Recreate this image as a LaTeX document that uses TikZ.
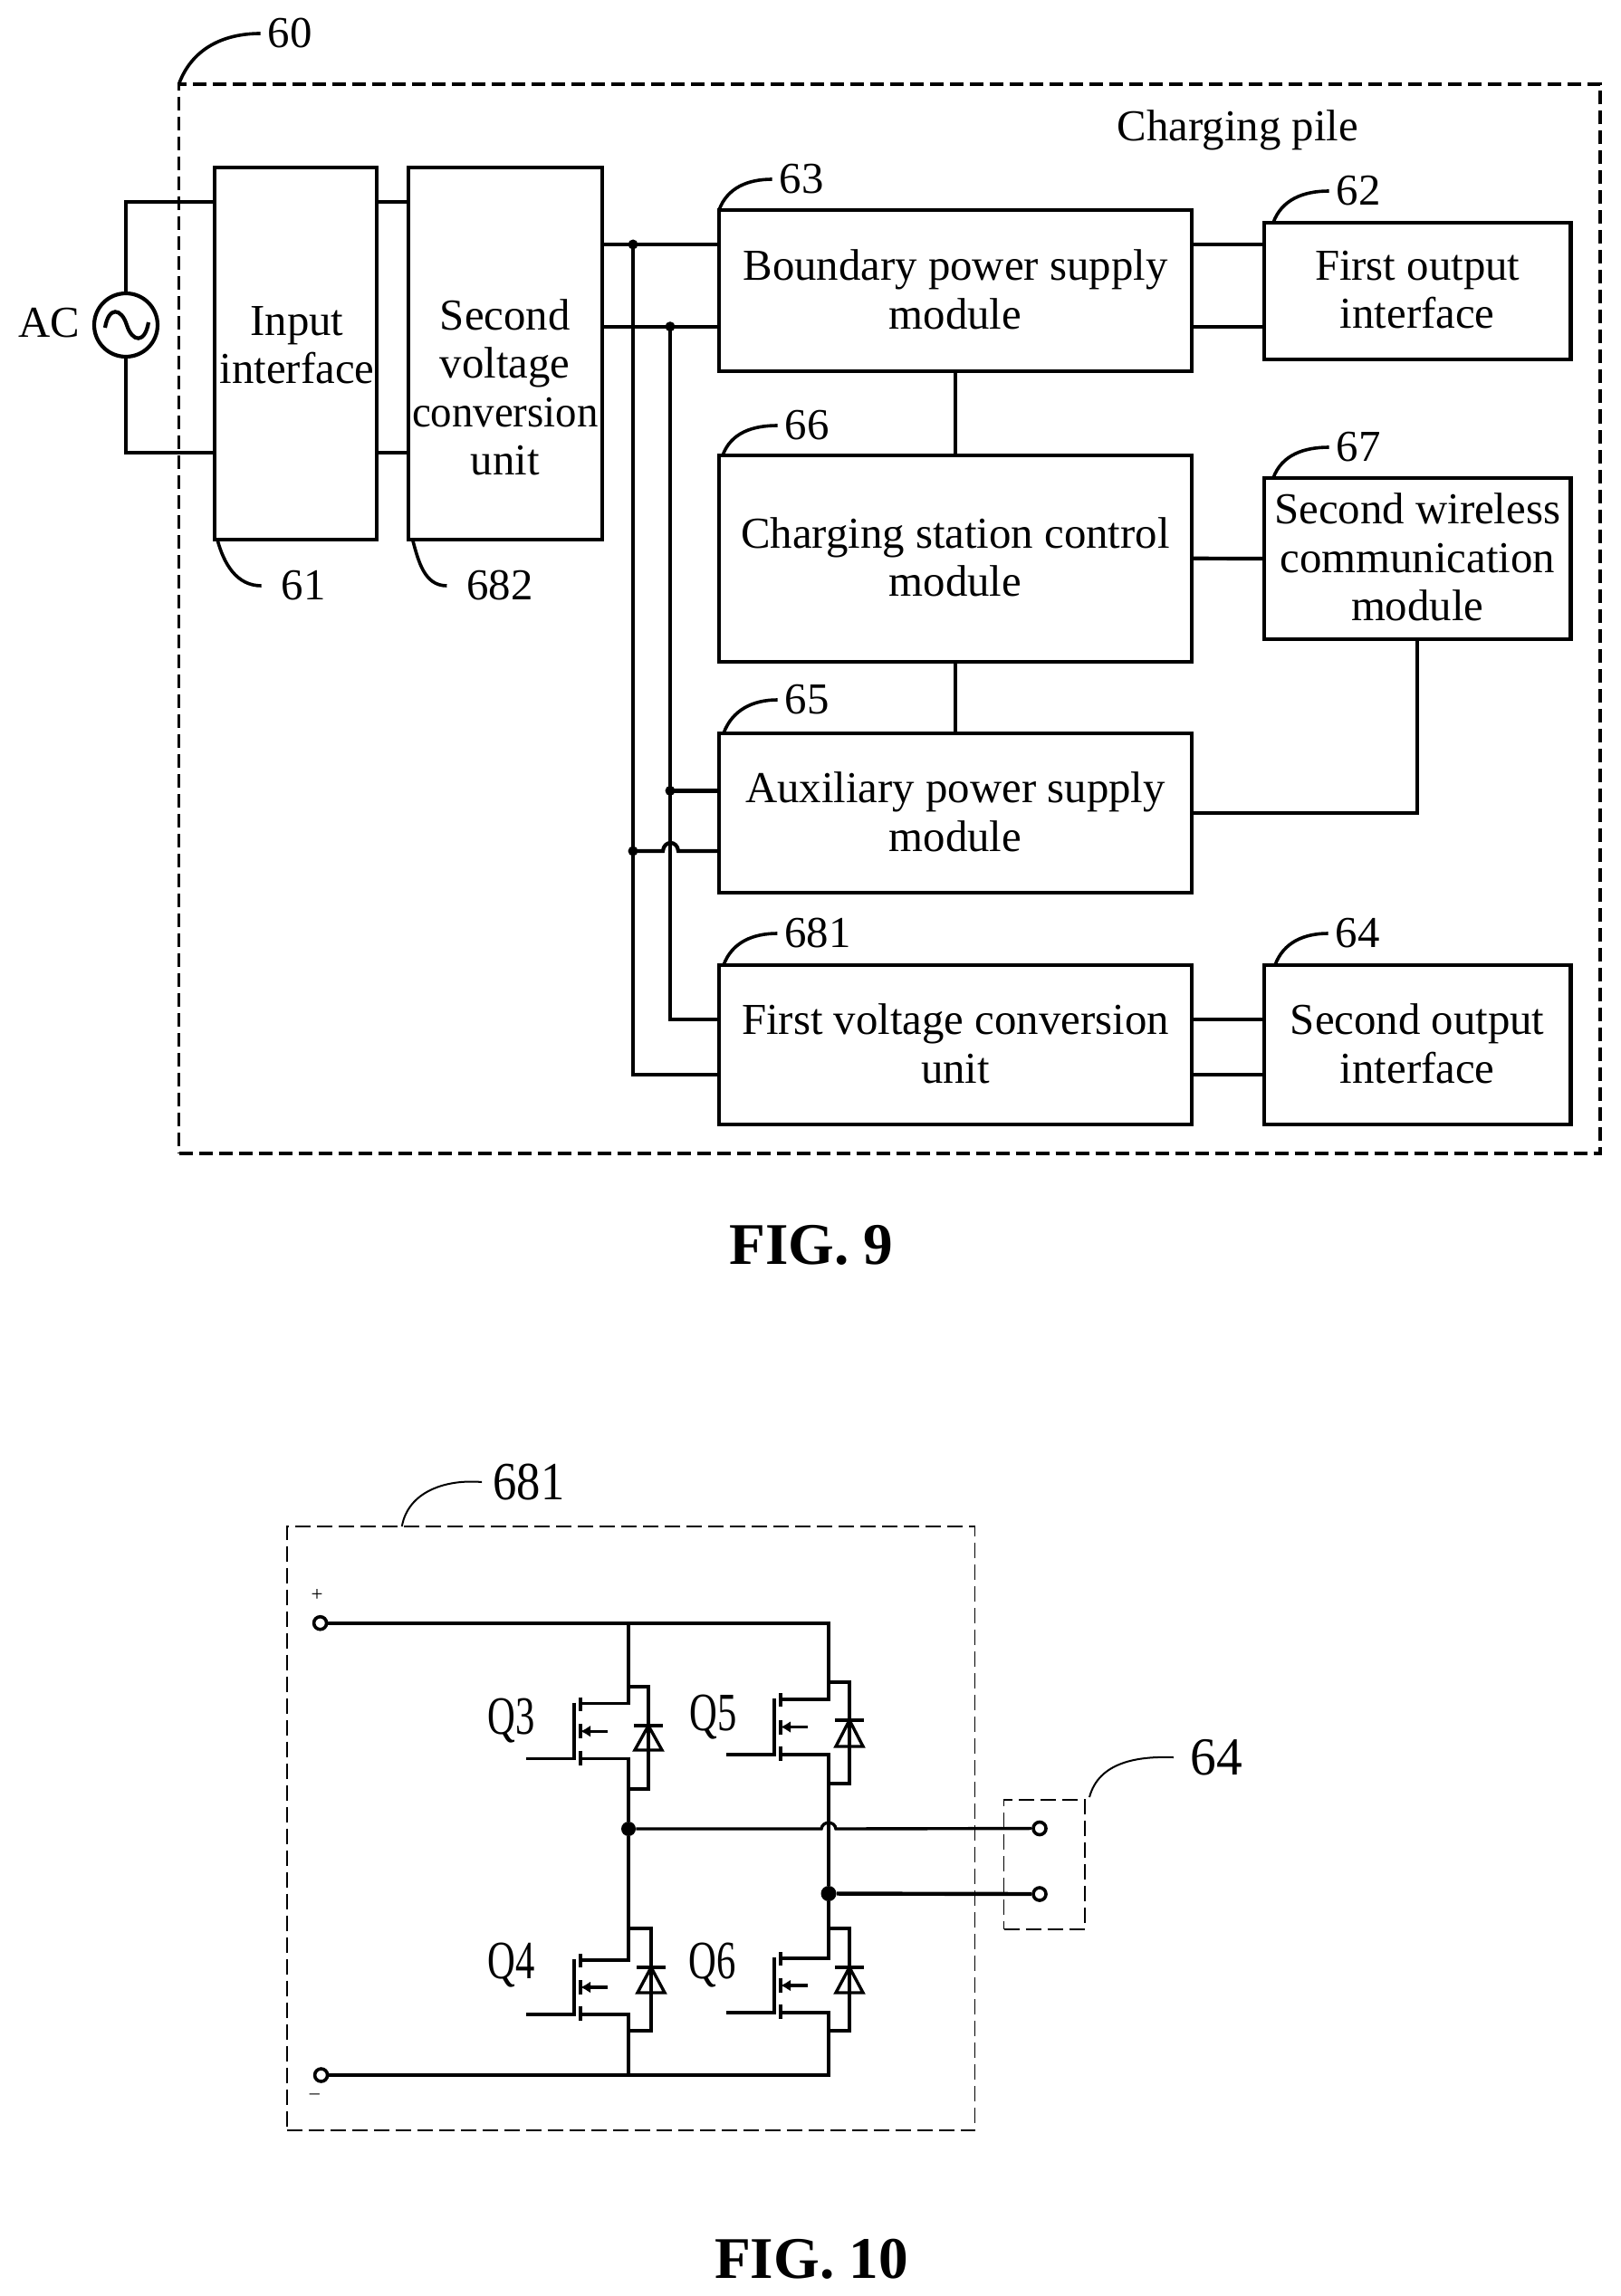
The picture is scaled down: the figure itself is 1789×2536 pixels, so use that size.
\documentclass[tikz,border=0pt]{standalone}
\usepackage{graphicx}
\usepackage{fontspec}
\setmainfont{Liberation Serif}
\usetikzlibrary{arrows.meta,calc}
\newcommand{\ystr}[2]{\scalebox{1}[#1]{#2}}
\newcommand{\dnx}{\rule[-1.6pt]{0pt}{1.6pt}}
\tikzset{
  sz/.style 2 args={minimum width=#1*0.5pt,minimum height=#2*0.5pt},
  txt/.style={inner sep=0pt,outer sep=0pt,align=center,font=\fontsize{24.4}{26.7}\selectfont},
  blk/.style={draw,line width=2.1pt,inner sep=0pt,outer sep=0pt,align=center,font=\fontsize{24.4}{26.7}\selectfont},
  wire/.style={line width=2.1pt},
  outerdash/.style={draw,line width=1.8pt,dash pattern=on 7.5pt off 3.5pt,inner sep=0pt,outer sep=0pt},
  thindash/.style={draw,line width=0.8pt,dash pattern=on 8.5pt off 3.5pt,inner sep=0pt,outer sep=0pt},
  leader/.style={line width=1.8pt},
  thinleader/.style={line width=1pt},
  lbl/.style={inner xsep=4pt,inner ysep=0pt,outer sep=0pt,font=\fontsize{24.4}{26.7}\selectfont},
  figcap/.style={inner sep=0pt,font=\fontsize{32.6}{36}\selectfont\bfseries},
  jdot/.style={circle,fill=black,inner sep=0pt,minimum size=#1*1pt},
  cw/.style={line width=1.7pt},
  rail/.style={line width=1.9pt},
  term/.style={circle,draw,fill=white,line width=1.8pt,inner sep=0pt,minimum size=7pt},
  qlbl/.style={inner sep=0pt,font=\fontsize{21.3}{24}\selectfont},
  reflbl/.style={inner xsep=5pt,inner ysep=0pt,font=\fontsize{26.3}{28}\selectfont}
}
% name, x, y-drain, y-source, y-looptop, y-loopbottom, x-loop, y-diode-top, y-diode-bottom
\newcommand{\mosfet}[9]{%
  \coordinate (#1d) at (#2,#3);
  \coordinate (#1s) at (#2,#4);
  \coordinate (#1t) at (#2,#5);
  \coordinate (#1b) at (#2,#6);
  \coordinate (#1dt) at (#7,#8);
  \coordinate (#1db) at (#7,#9);
  \coordinate (#1c) at ($(#1d)+(-53,0)$);
  \coordinate (#1e) at ($(#1s)+(-53,0)$);
  \coordinate (#1m) at ($(#1c)!0.5!(#1e)$);
  % drain and source stubs
  \draw[cw] (#1t) -- (#1d) -- (#1c);
  \draw[cw] (#1b) -- (#1s) -- (#1e);
  % channel bars
  \draw[cw] ($(#1c)+(0,-7)$) -- ($(#1c)+(0,8)$);
  \draw[cw] ($(#1e)+(0,-9)$) -- ($(#1e)+(0,7)$);
  \draw[cw] ($(#1m)+(0,-8)$) -- ($(#1m)+(0,8)$);
  % gate plate and lead
  \draw[cw] ($(#1c)+(-7,-1)$) -- ($(#1e)+(-7,0)$) -- ($(#1e)+(-60,0)$);
  % body arrow
  \draw[cw,-{Latex[length=5.5pt,width=6.5pt]}] ($(#1m)+(30,0)$) -- (#1m);
  % body diode loop
  \draw[cw] (#1t) -- (#1t -| #1dt) -- (#1b -| #1dt) -- (#1b);
  % diode
  \draw[cw,fill=white] (#1dt) -- ($(#1db)+(-15,0)$) -- ($(#1db)+(15,0)$) -- cycle;
  \draw[cw] ($(#1dt)+(-16,0)$) -- ($(#1dt)+(16,0)$);
  \draw[cw] (#1dt) -- (#1db);
}
\begin{document}
\begin{tikzpicture}[x=0.5pt,y=-0.5pt]
\useasboundingbox[fill=white] (0,0) rectangle (1789,2536);

% ===== FIG. 9 =====
\node[outerdash,sz={1569.5}{1181},anchor=north west] (pile) at (197.5,93) {};
\node[lbl,anchor=center,inner xsep=4pt] (l60) at (320,37) {60};
\node[txt] (pilet) at (1367,143.5) {Charging pile};

\node[blk,sz={178.6}{411}] (input) at (326.3,390.5) {};
\node[txt] (inputt) at (328,381.5) {Input\\interface};
\node[blk,sz={214.4}{411}] (second) at (557.8,390.5) {};
\node[txt] (secondt) at (557.8,428) {Second\\voltage\\\scalebox{.96}[1]{conversion}\\unit};

\node[circle,draw,line width=2.1pt,minimum size=35pt,inner sep=0pt] (acs) at (139,359) {};
\node[txt] (act) at (54,357) {AC};
\draw[wire] (116,362) .. controls (120,338) and (134,340) .. (140,359) .. controls (146,378) and (160,380) .. (164,356);

\node[blk,sz={522}{178}] (bound) at (1055,321) {Boundary power supply\\module\dnx};
\node[blk,sz={522}{227.6}] (ctrl) at (1055,616.8) {Charging station control\\module\dnx};
\node[blk,sz={522}{176}] (aux) at (1055,898) {Auxiliary power supply\\module\dnx};
\node[blk,sz={522}{176}] (first) at (1055,1154) {First voltage conversion\\unit\dnx};
\node[blk,sz={338.5}{151}] (out1) at (1565.2,321.5) {First output\\interface\dnx};
\node[blk,sz={338.5}{178}] (wless) at (1565.2,617) {Second wireless\\communication\\module\dnx};
\node[blk,sz={338.5}{176}] (out2) at (1565.2,1154) {Second output\\interface\dnx};

% levels
\coordinate (ya) at (0,223);
\coordinate (yb) at (0,500);
\coordinate (yc) at (0,270);
\coordinate (yd) at (0,360.7);
\coordinate (ye) at (0,873.4);
\coordinate (yf) at (0,940);
\coordinate (yg) at (0,1125.6);
\coordinate (yh) at (0,1187);
\coordinate (xa) at (699,0);
\coordinate (xb) at (740,0);

\draw[wire] (acs.north) -- (acs.north |- ya) -- (input.west |- ya);
\draw[wire] (acs.south) -- (acs.south |- yb) -- (input.west |- yb);
\draw[wire] (input.east |- ya) -- (second.west |- ya);
\draw[wire] (input.east |- yb) -- (second.west |- yb);
\draw[wire] (second.east |- yc) -- (bound.west |- yc);
\draw[wire] (second.east |- yd) -- (bound.west |- yd);
\draw[wire] (bound.east |- yc) -- (out1.west |- yc);
\draw[wire] (bound.east |- yd) -- (out1.west |- yd);
\draw[wire] (bound.south) -- (ctrl.north);
\draw[wire] (ctrl.south) -- (aux.north);
\draw[wire] (ctrl.east) -- (wless.west);
\draw[wire] (aux.east) -- (aux.east -| wless.south) -- (wless.south);
\draw[wire] (xa |- yc) -- (xa |- yh) -- (first.west |- yh);
\draw[wire] (xb |- yd) -- (xb |- yg) -- (first.west |- yg);
\draw[wire] (xb |- ye) -- (aux.west |- ye);
\coordinate (hl) at (732,940);
\coordinate (hr) at (749,940);
\draw[wire] (xa |- yf) -- (hl) .. controls (733,928) and (748,928) .. (hr) -- (aux.west |- yf);
\draw[wire] (first.east |- yg) -- (out2.west |- yg);
\draw[wire] (first.east |- yh) -- (out2.west |- yh);
\node[jdot=5.5] (j1) at (xa |- yc) {};
\node[jdot=5.5] (j2) at (xb |- yd) {};
\node[jdot=5.5] (j3) at (xb |- ye) {};
\node[jdot=5.5] (j4) at (xa |- yf) {};

% numbered leaders
\draw[leader] (pile.north west) to[out=70,in=180] (l60.west);
\node[lbl] (l63) at (885,198) {63};
\draw[leader] (bound.north west) to[out=70,in=180] (l63.west);
\node[lbl] (l66) at (891,470) {66};
\draw[leader] ([xshift=2pt]ctrl.north west) to[out=70,in=180] (l66.west);
\node[lbl] (l65) at (891,773) {65};
\draw[leader] ([xshift=2.5pt]aux.north west) to[out=70,in=180] (l65.west);
\node[lbl] (l681) at (903,1031) {681};
\draw[leader] ([xshift=2.5pt]first.north west) to[out=70,in=180] (l681.west);
\node[lbl] (l62) at (1500,211) {62};
\draw[leader] ([xshift=5pt]out1.north west) to[out=70,in=180] (l62.west);
\node[lbl] (l67) at (1500,494) {67};
\draw[leader] ([xshift=5pt]wless.north west) to[out=70,in=180] (l67.west);
\node[lbl] (l64) at (1499,1031) {64};
\draw[leader] ([xshift=6pt]out2.north west) to[out=70,in=180] (l64.west);
\node[lbl] (l61) at (335,647) {61};
\draw[leader] ([xshift=1.5pt]input.south west) to[out=-75,in=180] ([xshift=-7pt]l61.west);
\node[lbl] (l682) at (552,647) {682};
\draw[leader] ([xshift=2.5pt]second.south west) to[out=-75,in=180] ([xshift=-7pt]l682.west);

\node[figcap] (fig9) at (896,1375) {FIG. 9};

% ===== FIG. 10 =====
\node[thindash,sz={759.7}{667},anchor=north west] (unit) at (316.8,1686) {};
\node[thindash,sz={89.5}{142.7},anchor=north west] (port) at (1108.5,1988) {};

\node[reflbl] (r681) at (584,1637) {\ystr{1.13}{681}};
\draw[thinleader] ([xshift=63.5pt]unit.north west) to[out=80,in=175] ([xshift=-1pt]r681.west);
\node[reflbl,font=\fontsize{28.7}{30}\selectfont] (r64) at (1343,1941) {\ystr{1.03}{64}};
\draw[thinleader] ([xshift=2.5pt,yshift=1.5pt]port.north east) to[out=75,in=178] ([xshift=-4pt]r64.west);

\node[inner sep=0pt,font=\fontsize{11.5}{12}\selectfont] (plus) at (350,1762) {+};
\node[inner sep=0pt,font=\fontsize{11}{12}\selectfont] (minus) at (347.4,2316) {–};

\node[term] (tp) at (353.6,1792.7) {};
\node[term] (tn) at (354.6,2292) {};
\node[term] (ta) at (1148,2019.5) {};
\node[term] (tb) at (1148,2092) {};

\node[qlbl] (q3) at (565,1901) {\ystr{1.4}{Q3}};
\node[qlbl] (q5) at (788,1897) {\ystr{1.4}{Q5}};
\node[qlbl] (q4) at (565,2171) {\ystr{1.4}{Q4}};
\node[qlbl] (q6) at (787,2171) {\ystr{1.4}{Q6}};

\mosfet{Q3}{694}{1881.7}{1942.7}{1863}{1976}{716}{1906}{1933}
\mosfet{Q5}{915}{1877}{1938}{1858}{1970}{938}{1900}{1929}
\mosfet{Q4}{694}{2165}{2225}{2130}{2243}{719}{2173}{2201}
\mosfet{Q6}{915}{2163}{2223}{2130}{2243}{938}{2173}{2201}

\node[jdot=8] (ja) at (694,2020) {};
\node[jdot=8.5] (jb) at (915,2091.5) {};

\draw[rail] (tp) -- (tp -| Q5t) -- (Q5t);
\draw[cw] (tp -| Q3t) -- (Q3t);
\draw[rail] (tn) -- (tn -| Q6b) -- (Q6b);
\draw[cw] (tn -| Q4b) -- (Q4b);
\draw[cw] (Q3b) -- (ja) -- (Q4t);
\draw[cw] (Q5b) -- (jb) -- (Q6t);
\coordinate (hopl) at (907,2020);
\coordinate (hopr) at (923,2020);
\draw[cw] (ja) -- (hopl) .. controls (908,2011) and (922,2011) .. (hopr) -- (ta);
\draw[rail,line width=2.2pt] (jb) -- (tb);

\node[figcap] (fig10) at (896,2495) {FIG. 10};
\end{tikzpicture}
\end{document}
